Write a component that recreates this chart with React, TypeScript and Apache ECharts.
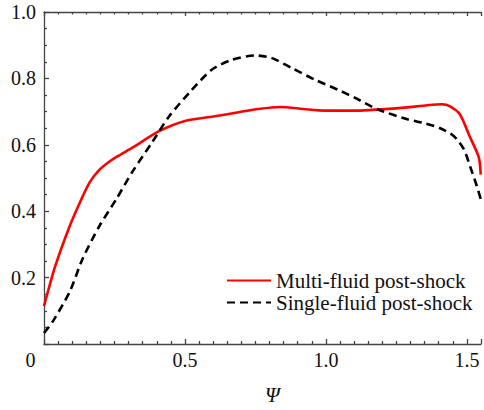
import React, { useEffect, useRef } from "react";
import * as echarts from "echarts";

const multiX = [0, 0.039, 0.092, 0.133, 0.162, 0.197, 0.23, 0.26, 0.315, 0.408, 0.5, 0.6, 0.69, 0.76, 0.838, 0.92, 0.996, 1.11, 1.194, 1.28, 1.359, 1.412, 1.44, 1.475, 1.51, 1.542, 1.549];
const multiY = [0.114, 0.232, 0.357, 0.437, 0.487, 0.525, 0.548, 0.565, 0.592, 0.641, 0.672, 0.685, 0.698, 0.708, 0.714, 0.708, 0.703, 0.703, 0.707, 0.712, 0.719, 0.722, 0.716, 0.692, 0.625, 0.563, 0.51];
const singleX = [0, 0.032, 0.092, 0.137, 0.197, 0.257, 0.313, 0.384, 0.444, 0.525, 0.595, 0.666, 0.75, 0.806, 0.877, 0.961, 1.042, 1.102, 1.183, 1.289, 1.349, 1.405, 1.454, 1.489, 1.511, 1.535, 1.549];
const singleY = [0.033, 0.069, 0.159, 0.257, 0.356, 0.437, 0.518, 0.608, 0.686, 0.766, 0.826, 0.856, 0.869, 0.862, 0.832, 0.796, 0.766, 0.742, 0.707, 0.677, 0.665, 0.65, 0.626, 0.587, 0.536, 0.476, 0.437];

const seriesNames = ["Multi-fluid post-shock", "Single-fluid post-shock"];
const xTickValues = [0, 0.5, 1.0, 1.5];
const xTickLabels = ["0", "0.5", "1.0", "1.5"];
const yTickValues = [0, 0.2, 0.4, 0.6, 0.8, 1.0];
const yTickLabels = ["", "0.2", "0.4", "0.6", "0.8", "1.0"];
const xName = "Ψ";

const FONT = "Liberation Serif";

function zip(xs: number[], ys: number[]) {
  return xs.map((x, i) => [x, ys[i]]);
}

function findLabel(values: number[], labels: string[], v: number) {
  const i = values.findIndex((t) => Math.abs(t - v) < 1e-6);
  return i >= 0 ? labels[i] : "";
}

export default function App() {
  const ref = useRef<HTMLDivElement>(null);
  useEffect(() => {
    if (!ref.current) return;
    const chart = echarts.init(ref.current, undefined, { renderer: "svg" });
    const axisLineStyle = { color: "#444", width: 1.3 };
    chart.setOption({
      animation: false,
      backgroundColor: "#fff",
      textStyle: { fontFamily: FONT },
      grid: { left: 44, top: 12, right: 0, bottom: 64 },
      legend: {
        orient: "vertical",
        left: 226,
        top: 270,
        padding: 0,
        itemWidth: 44,
        itemHeight: 14,
        itemGap: 1,
        itemStyle: { opacity: 0 },
        textStyle: { fontFamily: FONT, fontSize: 21, color: "#111", lineHeight: 21 },
        data: seriesNames,
      },
      xAxis: [
        {
          type: "value",
          min: 0,
          max: 1.55,
          interval: 0.5,
          position: "bottom",
          name: xName,
          nameLocation: "middle",
          nameGap: 40,
          nameTextStyle: { fontFamily: FONT, fontSize: 21, fontStyle: "italic", color: "#111", padding: [0, 0, 0, 20] },
          axisLine: { show: true, lineStyle: axisLineStyle },
          axisTick: { show: true, inside: true, length: 5, lineStyle: axisLineStyle },
          minorTick: { show: true, splitNumber: 10, length: 3, lineStyle: axisLineStyle },
          splitLine: { show: false },
          axisLabel: {
            margin: 6,
            fontFamily: FONT,
            fontSize: 20,
            color: "#111",
            formatter: (v: number) => {
              const s = findLabel(xTickValues, xTickLabels, v);
              return v === 0 ? "{z|" + s + "}" : s;
            },
            rich: { z: { fontFamily: FONT, fontSize: 20, color: "#111", padding: [0, 27, 0, 0] } },
          },
        },
        {
          type: "value",
          min: 0,
          max: 1.55,
          interval: 0.5,
          position: "top",
          axisLine: { show: true, lineStyle: axisLineStyle },
          axisTick: { show: true, inside: true, length: 4, lineStyle: axisLineStyle },
          minorTick: { show: true, splitNumber: 10, length: 2.5, lineStyle: axisLineStyle },
          splitLine: { show: false },
          axisLabel: { show: false },
        },
      ],
      yAxis: {
        type: "value",
        min: 0,
        max: 1,
        interval: 0.2,
        axisLine: { show: true, lineStyle: axisLineStyle },
        axisTick: { show: true, inside: true, length: 5, lineStyle: axisLineStyle },
        minorTick: { show: true, splitNumber: 4, length: 3, lineStyle: axisLineStyle },
        splitLine: { show: false },
        axisLabel: {
          margin: 8,
          fontFamily: FONT,
          fontSize: 20,
          color: "#111",
          formatter: (v: number) => findLabel(yTickValues, yTickLabels, v),
        },
      },
      series: [
        {
          name: seriesNames[0],
          type: "line",
          data: zip(multiX, multiY),
          showSymbol: false,
          symbol: "none",
          smooth: 0.25,
          lineStyle: { color: "#ff0000", width: 2.6 },
          itemStyle: { color: "#ff0000" },
        },
        {
          name: seriesNames[1],
          type: "line",
          data: zip(singleX, singleY),
          showSymbol: false,
          symbol: "none",
          smooth: 0.25,
          lineStyle: { color: "#000", width: 2.6, type: [8, 5] },
          itemStyle: { color: "#000" },
        },
      ],
    });
    return () => chart.dispose();
  }, []);
  return <div ref={ref} style={{ width: 484, height: 410, position: "absolute", left: 0, top: 0 }} />;
}
